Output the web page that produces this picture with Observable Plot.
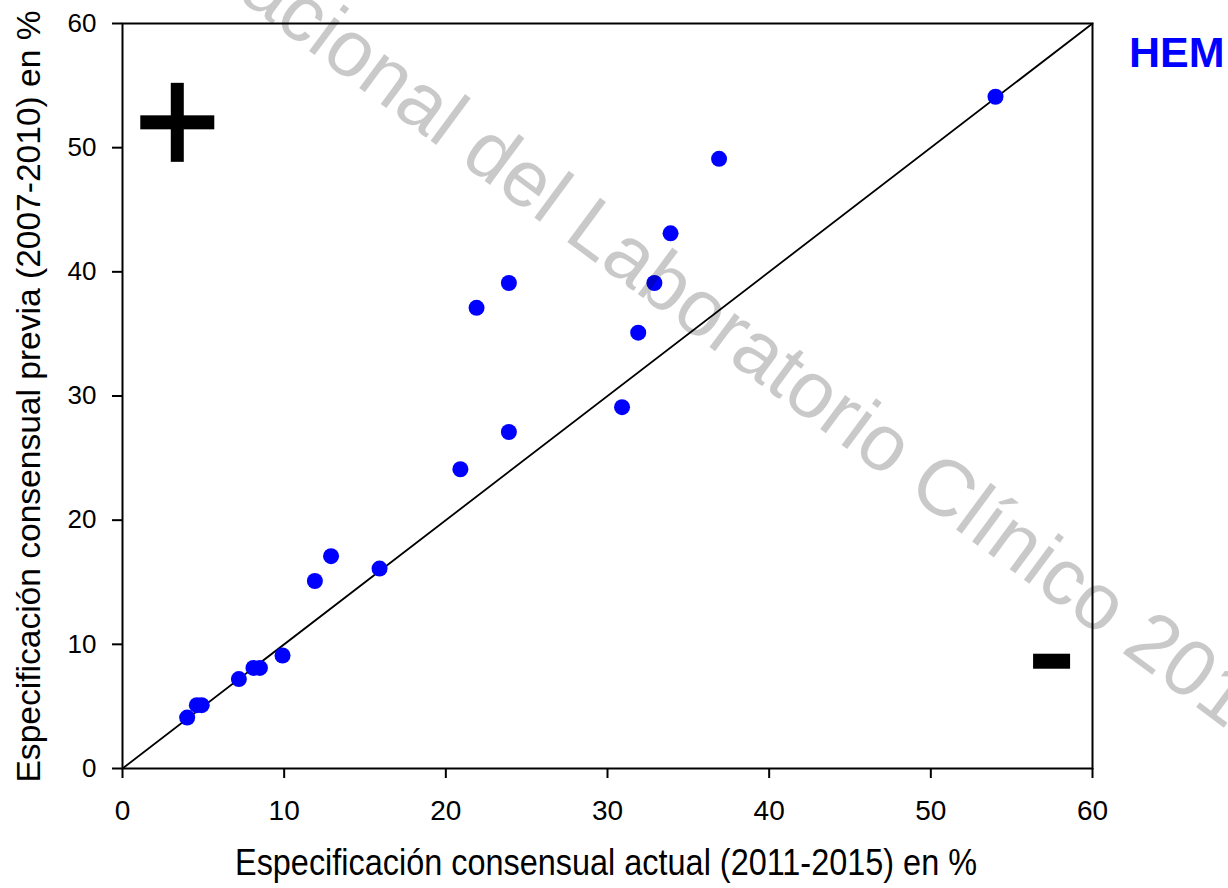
<!DOCTYPE html>
<html><head><meta charset="utf-8">
<script src="https://cdn.jsdelivr.net/npm/d3@7"></script>
<script src="https://cdn.jsdelivr.net/npm/@observablehq/plot@0.6"></script>
<style>html,body{margin:0;padding:0;background:#fff;overflow:hidden;} #chart svg{display:block;}</style>
</head><body><div id="chart"></div>
<script>
// Specification values (%): current consensus (2011-2015) vs previous (2007-2010)
const actual   = [4.0, 4.6, 4.9, 7.2, 8.1, 8.5, 9.9, 11.9, 12.9, 15.9, 20.9, 21.9, 23.9, 23.9, 30.9, 31.9, 32.9, 33.9, 36.9, 54.0];
const previous = [4.1, 5.1, 5.1, 7.2, 8.1, 8.1, 9.1, 15.1, 17.1, 16.1, 24.1, 37.1, 39.1, 27.1, 29.1, 35.1, 39.1, 43.1, 49.1, 54.1];
const tickValues = [0, 10, 20, 30, 40, 50, 60];
const diagonal = [0, 60];
const xTitle = "Especificación consensual actual (2011-2015) en %";
const yTitle = "Especificación consensual previa (2007-2010) en %";
const panelLabel = "HEM";
const watermarkBefore = "Congreso Nacional del";
const watermarkAfter = "Laboratorio Clínico 2016";

const points = actual.map((x, i) => ({x, y: previous[i]}));
const FONT = "'Liberation Sans', Arial, sans-serif";

const plot = Plot.plot({
  width: 1228, height: 888,
  marginLeft: 122, marginRight: 136, marginTop: 23, marginBottom: 120,
  style: {fontFamily: FONT, background: "#fff", color: "#000"},
  x: {domain: [0, 60]},
  y: {domain: [0, 60]},
  marks: [
    Plot.axisX({ticks: tickValues, tickSize: 10, tickPadding: 22, fontSize: 28, strokeWidth: 2, label: null}),
    Plot.axisY({ticks: tickValues, tickSize: 10, tickPadding: 16, fontSize: 26, strokeWidth: 2, label: null}),
    Plot.line(diagonal, {x: d => d, y: d => d, stroke: "#000", strokeWidth: 1.8}),
    Plot.frame({stroke: "#000", strokeWidth: 2}),
    Plot.dot(points, {x: "x", y: "y", r: 8, fill: "#0000ff", stroke: null})
  ]
});
document.getElementById("chart").appendChild(plot);

const sx = plot.scale("x"), sy = plot.scale("y");
const svg = d3.select(plot);

// "+" and "-" quadrant markers (positions in data units)
const plusC = [sx.apply(3.42), sy.apply(52.0)];
const g = svg.append("g").attr("fill", "#000");
g.append("rect").attr("x", plusC[0] - 6.5).attr("y", plusC[1] - 39.5).attr("width", 13).attr("height", 79);
g.append("rect").attr("x", plusC[0] - 37).attr("y", plusC[1] - 7).attr("width", 74).attr("height", 14);
const minusC = [sx.apply(57.5), sy.apply(8.6)];
g.append("rect").attr("x", minusC[0] - 18.5).attr("y", minusC[1] - 7.5).attr("width", 37).attr("height", 15);

// Axis titles
svg.append("text").attr("x", 606).attr("y", 875).attr("text-anchor", "middle")
  .attr("font-family", FONT).attr("font-size", 37).attr("fill", "#000")
  .attr("textLength", 742).attr("lengthAdjust", "spacingAndGlyphs").text(xTitle);
svg.append("text").attr("transform", "translate(40,396.5) rotate(-90)").attr("text-anchor", "middle")
  .attr("font-family", FONT).attr("font-size", 34).attr("fill", "#000")
  .attr("textLength", 772).attr("lengthAdjust", "spacingAndGlyphs").text(yTitle);

// Panel label
svg.append("text").attr("x", 1129).attr("y", 66.5).attr("text-anchor", "start")
  .attr("font-family", FONT).attr("font-size", 43).attr("font-weight", "bold").attr("fill", "#0000ff")
  .text(panelLabel);

// Watermark
const wm = svg.append("g").attr("transform", "translate(562,238) rotate(36.5)")
  .attr("font-family", FONT).attr("font-size", 80).attr("fill", "#000").attr("fill-opacity", 0.21);
wm.append("text").attr("x", -22).attr("text-anchor", "end").text(watermarkBefore);
wm.append("text").attr("x", 0).attr("text-anchor", "start").text(watermarkAfter);
</script>
</body></html>
